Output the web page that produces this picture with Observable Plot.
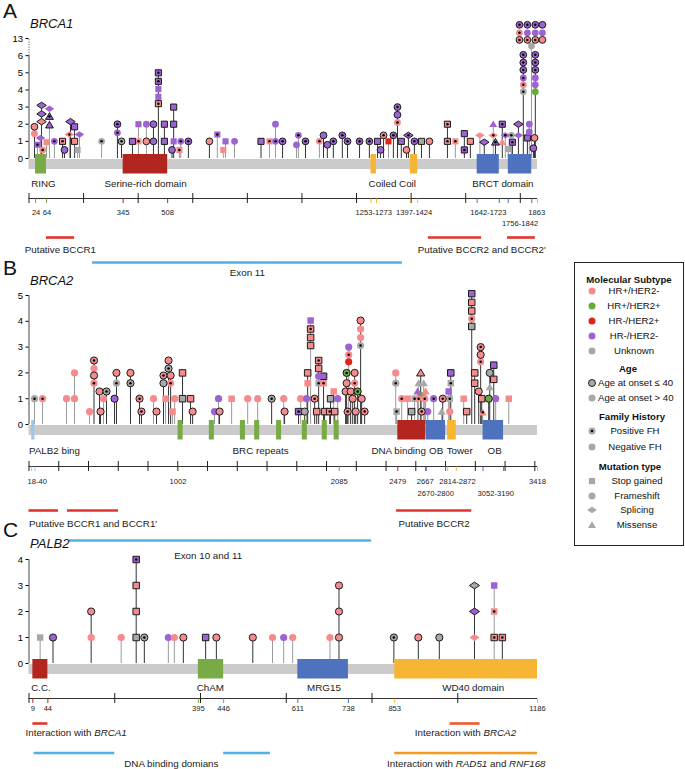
<!DOCTYPE html>
<html><head><meta charset="utf-8">
<script src="https://cdn.jsdelivr.net/npm/d3@7"></script>
<script src="https://cdn.jsdelivr.net/npm/@observablehq/plot@0.6"></script>
<style>
body{margin:0;background:#fff;font-family:"Liberation Sans",Arial,sans-serif}
#wrap{position:relative;width:685px;height:769px;overflow:hidden;background:#fff}
#wrap svg{position:absolute;left:0}
</style></head><body><div id="wrap"></div>
<script>
// ---------- categories ----------
const SUBTYPES = ["a","b","c","d","u"];
const SUBTYPE_LABELS = ["HR+/HER2-","HR+/HER2+","HR-/HER2+","HR-/HER2-","Unknown"];
const MUTATION_TYPES = ["S","F","P","M"];
const MUTATION_LABELS = ["Stop gained","Frameshift","Splicing","Missense"];
const Y_TICKS_A = [0,1,2,3,4,5,6,7];
const Y_TICK_LABELS_A = ["0","1","2","3","4","5","6","13"];
const Y_TICKS_B = [0,1,2,3,4,5];
const Y_TICKS_C = [0,1,2,3,4];

// rows: [position (aa), stack level, subtype, age<=40, positive FH, mutation type]
const brca1Mutations = [
 [20,1.85,"a",1,0,"F"],[20,1.45,"a",0,0,"F"],
 [31,0.8,"d",0,1,"S"],
 [42,1.2,"d",0,0,"P"],
 [46,3.1,"d",1,0,"P"],[46,2.6,"d",1,0,"P"],[46,2.15,"a",1,0,"P"],
 [50,0.5,"a",0,1,"F"],
 [64,0.95,"a",0,0,"S"],
 [75,2.9,"d",0,0,"P"],[75,2.45,"d",1,1,"M"],[75,1.95,"d",1,0,"M"],
 [93,1,"d",0,1,"F"],
 [123,1,"a",1,1,"S"],
 [130,0.5,"d",1,0,"F"],
 [148,1.4,"a",0,1,"P"],
 [152,2.15,"d",1,0,"P"],
 [167,1.85,"d",1,0,"S"],[167,1,"a",1,0,"S"],
 [178,0.5,"u",0,0,"S"],
 [185,1.4,"d",0,0,"P"],
 [266,1,"u",0,1,"F"],
 [324,2,"d",1,1,"F"],[324,1.5,"d",0,1,"F"],
 [339,1,"u",1,1,"F"],
 [379,1,"d",1,0,"S"],
 [401,2,"d",0,0,"S"],[401,1,"a",0,1,"S"],
 [430,2,"d",0,0,"F"],[430,1,"a",1,0,"F"],
 [456,2,"d",1,0,"F"],[456,1,"d",1,0,"F"],
 [474,5,"d",1,1,"S"],[474,4.5,"d",1,1,"S"],[474,4.05,"d",0,0,"S"],[474,3.6,"d",0,0,"S"],[474,3.2,"a",1,1,"S"],
 [496,2,"d",1,0,"S"],[496,1,"d",1,0,"S"],
 [524,0.5,"d",1,0,"F"],
 [530,3,"d",1,0,"S"],[530,2,"d",1,0,"S"],[530,1,"d",0,0,"S"],
 [551,0.5,"a",0,1,"S"],
 [556,1,"d",0,1,"F"],
 [584,1,"d",1,1,"F"],
 [661,1,"a",1,0,"F"],
 [690,1.4,"d",0,1,"S"],
 [712,0.5,"a",0,0,"S"],
 [720,1,"d",0,0,"S"],
 [753,1,"d",0,0,"F"],
 [850,1,"d",1,0,"S"],
 [881,1,"a",0,1,"S"],
 [903,2,"d",0,0,"F"],[903,1,"d",0,1,"F"],
 [929,1,"d",1,1,"F"],
 [980,0.8,"d",0,0,"F"],
 [987,1.35,"d",0,1,"F"],
 [1013,1,"d",1,1,"F"],
 [1064,1,"a",0,1,"F"],
 [1079,1.35,"d",1,0,"F"],
 [1093,0.8,"d",1,0,"F"],
 [1115,1,"d",1,1,"F"],
 [1148,1.35,"d",1,1,"F"],
 [1167,1,"d",1,1,"F"],
 [1211,1,"d",1,1,"F"],
 [1247,1,"d",1,1,"F"],
 [1277,1,"d",1,0,"S"],
 [1288,0.5,"d",1,0,"F"],
 [1299,1.35,"a",1,1,"F"],
 [1317,1,"c",0,0,"S"],
 [1335,1.35,"d",1,1,"F"],
 [1350,3,"d",1,1,"F"],[1350,2.55,"d",1,0,"F"],[1350,2.1,"a",0,1,"F"],
 [1364,1,"d",1,0,"S"],
 [1383,0.5,"a",1,0,"F"],
 [1390,1.35,"d",1,1,"P"],
 [1412,1,"d",1,1,"F"],
 [1438,1,"u",1,0,"S"],
 [1467,1,"a",1,0,"F"],
 [1533,2,"a",1,1,"S"],[1533,1,"a",1,1,"S"],
 [1562,1,"a",0,1,"S"],
 [1595,1.45,"d",1,0,"S"],[1595,0.5,"d",1,1,"S"],
 [1617,1,"a",1,0,"S"],
 [1652,1.35,"a",0,0,"P"],
 [1668,0.95,"d",1,0,"P"],
 [1701,2,"d",0,0,"M"],[1701,1.35,"a",0,1,"P"],
 [1709,0.95,"d",1,1,"M"],
 [1734,2,"d",1,1,"S"],[1734,0.95,"a",0,0,"M"],
 [1745,1.35,"d",0,1,"P"],
 [1756,0.55,"u",0,0,"S"],
 [1767,1.35,"u",0,1,"F"],
 [1771,0.95,"d",1,1,"S"],
 [1793,2,"d",1,0,"P"],[1793,1.35,"d",0,0,"P"],
 [1811,6.05,"d",1,1,"F"],[1811,5.6,"d",1,1,"F"],[1811,5.17,"d",1,1,"F"],[1811,4.7,"d",0,1,"F"],[1811,4.3,"a",0,1,"F"],[1811,3.9,"u",0,1,"F"],
 [1826,1.2,"d",1,0,"S"],
 [1833,2,"d",0,0,"F"],[1833,1.55,"d",0,0,"F"],
 [1841,6.57,"u",0,0,"F"],
 [1848,0.6,"d",1,0,"F"],
 [1852,1.2,"a",1,0,"F"],
 [1855,6.05,"d",1,1,"F"],[1855,5.6,"d",1,1,"F"],[1855,5.17,"d",1,1,"F"],[1855,4.7,"d",0,0,"F"],[1855,4.3,"d",0,0,"F"],[1855,3.9,"b",0,0,"F"]
];
// the 13-count group drawn as a block above the break
const brca1Cluster = [
 [1797,7.8,"d",1,1,"F"],[1826,7.8,"d",1,1,"F"],[1855,7.8,"d",1,1,"F"],[1881,7.8,"d",1,0,"F"],
 [1797,7.33,"a",0,1,"F"],[1826,7.33,"d",0,0,"F"],[1855,7.33,"d",0,0,"F"],[1881,7.33,"d",0,0,"F"],
 [1797,6.92,"a",1,1,"F"],[1826,6.92,"a",1,1,"F"],[1855,6.92,"a",1,1,"F"],[1881,6.92,"a",1,0,"F"]
];
const brca1Domains = [["RING",24,64],["Serine-rich domain",345,508],["Coiled Coil",1253,1273],["Coiled Coil",1397,1424],["BRCT domain",1642,1723],["BRCT domain",1756,1842]];
const brca1DomainLabels = [["RING",53],["Serine-rich domain",427],["Coiled Coil",1331],["BRCT domain",1736]];
const brca1Boundaries = [[24,"RING"],[64,"RING"],[345,"Serine-rich domain"],[508,"Serine-rich domain"],[1253,"Coiled Coil"],[1273,"Coiled Coil"],[1397,"Coiled Coil"],[1424,"Coiled Coil"],[1642,"BRCT domain"],[1723,"BRCT domain"],[1756,"BRCT domain"],[1842,"BRCT domain"],[1863,"end"]];
const brca1TickLabels = [["24",26,1],["64",66,1],["345",345,1],["508",508,1],["1253-1273",1263,1],["1397-1424",1411,1],["1642-1723",1683,1],["1756-1842",1799,2],["1863",1860,1]];
const brca1Regions = [[64,167,"bccr",1],[1463,1658,"bccr",1],[1753,1855,"bccr",1],[233,1368,"exon",2]];
const brca1RegionLabels = [["Putative BCCR1",115,1,"middle"],["Putative BCCR2 and BCCR2'",1659,1,"middle"],["Exon 11",800,2,"middle"]];

const brca2Mutations = [
 [37,1,"u",0,1,"F"],[91,1,"a",0,1,"F"],[252,1,"a",0,0,"F"],
 [306,2,"a",0,0,"F"],[306,1,"a",0,0,"F"],
 [407,0.5,"a",0,0,"F"],
 [437,2.48,"a",1,1,"F"],[437,2.17,"a",0,0,"F"],[437,1.9,"a",1,0,"F"],[437,1.6,"a",0,1,"F"],
 [474,1.28,"a",1,0,"F"],[481,0.5,"a",1,0,"F"],[501,1,"a",0,0,"F"],[521,1.28,"u",1,1,"F"],
 [575,1,"d",1,0,"F"],
 [588,2,"a",1,0,"F"],[588,1.6,"u",0,1,"F"],
 [682,2,"a",1,0,"F"],[682,1.6,"u",1,1,"F"],
 [743,1,"a",1,1,"F"],[756,0.5,"a",1,1,"F"],
 [837,1,"a",0,0,"F"],[857,0.5,"a",1,0,"F"],
 [904,1.9,"a",1,1,"F"],[904,1.6,"u",1,0,"F"],
 [918,1,"a",0,0,"S"],
 [938,2.48,"a",1,0,"F"],[938,2.17,"u",1,1,"F"],
 [952,1.9,"a",1,0,"F"],[952,1.6,"a",0,1,"F"],
 [965,0.5,"a",0,0,"S"],[979,1,"a",0,0,"F"],
 [1032,2,"a",1,0,"S"],[1032,1,"u",1,0,"S"],
 [1086,1,"a",1,0,"S"],[1100,0.5,"a",1,0,"F"],
 [1247,0.5,"d",0,0,"F"],[1274,1,"d",0,0,"F"],[1281,0.5,"a",1,0,"F"],
 [1362,1,"a",0,0,"S"],[1470,1,"a",0,0,"F"],[1537,1,"a",0,0,"F"],[1631,1,"u",1,1,"F"],
 [1712,1,"a",0,0,"F"],[1718,0.5,"a",1,0,"F"],
 [1812,0.5,"d",1,1,"S"],[1826,1,"a",0,0,"F"],[1853,0.5,"u",1,0,"F"],[1866,1,"d",0,0,"F"],
 [1873,2,"a",1,0,"S"],[1873,1.6,"a",0,0,"S"],
 [1893,4.03,"d",0,0,"S"],[1893,3.7,"a",1,1,"S"],[1893,3.37,"a",1,0,"S"],[1893,3.06,"a",1,0,"S"],
 [1920,1,"a",1,1,"F"],[1934,0.5,"a",1,0,"S"],
 [1947,2.48,"a",1,1,"S"],[1947,2.17,"a",1,0,"S"],[1947,1.87,"d",0,0,"F"],[1947,1.6,"u",0,1,"S"],
 [1980,1.87,"d",1,0,"S"],[1980,1.6,"a",0,1,"S"],
 [1987,0.5,"a",1,0,"S"],[2021,0.5,"a",1,1,"S"],[2027,1,"u",1,0,"S"],[2048,1.28,"a",0,0,"S"],[2055,0.5,"a",1,0,"S"],
 [2075,1,"d",0,0,"F"],
 [2128,1.28,"a",1,0,"F"],
 [2135,2,"b",1,1,"F"],[2135,1.6,"a",1,0,"F"],
 [2142,0.5,"a",1,1,"F"],
 [2149,3,"d",0,0,"F"],[2149,2.7,"a",0,1,"F"],[2149,2.43,"c",0,0,"F"],
 [2162,1.28,"a",1,0,"F"],[2176,1,"a",1,0,"F"],
 [2189,2,"a",1,0,"F"],[2189,1.6,"a",0,1,"F"],
 [2196,0.5,"a",1,0,"F"],[2209,1.28,"b",1,1,"F"],
 [2229,4.03,"a",1,0,"F"],[2229,3.7,"a",0,0,"F"],[2229,3.37,"a",0,0,"F"],[2229,3.06,"u",0,1,"F"],
 [2236,1,"a",1,0,"F"],[2256,0.5,"a",1,1,"F"],
 [2465,2,"a",0,0,"F"],[2465,1.6,"u",0,1,"F"],
 [2471,0.5,"u",0,1,"S"],[2505,1,"a",0,1,"F"],[2545,1,"a",0,0,"S"],[2572,0.5,"u",1,0,"S"],[2592,1,"u",0,1,"S"],
 [2612,1.28,"d",0,0,"M"],
 [2619,1.6,"u",0,0,"M"],[2619,1,"a",0,1,"P"],
 [2633,2,"a",1,0,"M"],
 [2639,1.12,"b",0,0,"F"],[2639,0.5,"a",1,1,"F"],
 [2653,1.6,"u",0,0,"M"],[2660,1,"a",0,1,"F"],[2666,1.28,"a",0,0,"M"],
 [2680,0.5,"d",0,0,"F"],[2720,1,"d",0,1,"F"],[2774,0.5,"u",0,0,"M"],[2781,1,"a",1,1,"F"],
 [2821,1.28,"d",0,0,"S"],
 [2828,1,"u",0,1,"S"],[2828,0.5,"a",0,0,"F"],
 [2835,2,"d",1,0,"S"],[2835,1.6,"u",0,1,"S"],
 [2922,1,"a",0,0,"S"],[2942,0.5,"a",1,0,"S"],
 [2976,5.07,"d",1,0,"S"],[2976,4.73,"a",1,0,"S"],[2976,4.4,"a",1,0,"S"],[2976,4.1,"a",0,1,"F"],[2976,3.8,"u",1,0,"S"],
 [2996,2,"a",1,0,"S"],[2996,1.6,"a",1,0,"S"],
 [3023,1.28,"a",1,0,"F"],
 [3036,3,"a",1,1,"F"],[3036,2.7,"a",1,0,"F"],[3036,2.43,"a",0,1,"F"],
 [3043,1,"a",1,0,"S"],[3050,0.47,"a",0,1,"M"],[3090,1,"b",1,0,"F"],
 [3097,2,"u",1,0,"F"],[3097,1.45,"u",0,0,"M"],
 [3124,2.3,"d",1,0,"S"],[3124,1.75,"a",1,0,"S"],
 [3137,1,"d",0,0,"F"],[3225,1,"a",0,0,"S"]
];
const brca2Domains = [["PALB2 binding",18,40],["BRC repeat",1002,1036],["BRC repeat",1212,1246],["BRC repeat",1421,1455],["BRC repeat",1517,1551],["BRC repeat",1664,1698],["BRC repeat",1837,1871],["BRC repeat",1971,2005],["BRC repeat",2051,2085],["DNA binding",2479,2667],["OB",2670,2800],["Tower",2814,2872],["OB",3052,3190]];
const brca2DomainLabels = [["BRC repeats",1557],["DNA binding",2485],["OB",2737],["Tower",2895],["OB",3130]];
const brca2StartLabels = [["PALB2 bing",0]];
const brca2Boundaries = [[18,"PALB2 binding"],[40,"PALB2 binding"],[1002,"BRC repeat"],[2085,"BRC repeat"],[2479,"DNA binding"],[2667,"link"],[2670,"OB"],[2800,"OB"],[2814,"Tower"],[2872,"Tower"],[3052,"OB"],[3190,"OB"],[3418,"end"]];
const brca2TickLabels = [["18-40",55,1],["1002",1002,1],["2085",2085,1],["2479",2479,1],["2667",2664,1],["2814-2872",2880,1],["2670-2800",2734,2],["3052-3190",3137,2],["3418",3418,1]];
const brca2Regions = [[0,198,"bccr",1],[259,602,"bccr",1],[2471,2976,"bccr",1],[272,2303,"exon",2]];
const brca2RegionLabels = [["Putative BCCR1 and BCCR1'",0,1,"start"],["Putative BCCR2",2723,1,"middle"],["Exon 10 and 11",1204,2,"middle"]];

const palb2Mutations = [
 [26,1,"u",0,0,"S"],[56,1,"d",1,0,"F"],
 [145,2,"a",1,0,"F"],[145,1,"a",0,0,"F"],
 [215,1,"a",0,0,"F"],
 [250,4,"d",1,1,"S"],[250,3,"a",1,0,"S"],[250,2,"a",1,0,"S"],[250,1,"u",1,0,"S"],
 [269,1,"u",1,1,"F"],[325,1,"d",0,0,"F"],[339,1,"a",0,0,"F"],[360,1,"a",1,0,"F"],
 [412,1,"d",1,0,"S"],[437,1,"a",1,0,"F"],[522,1,"a",1,0,"F"],[568,1,"a",0,0,"F"],
 [594,1,"d",0,0,"F"],[615,1,"a",0,0,"F"],[702,1,"a",0,0,"F"],
 [723,3,"a",1,0,"F"],[723,2,"a",1,0,"F"],[723,1,"a",1,0,"F"],
 [851,1,"u",1,1,"F"],[908,1,"a",1,0,"F"],[957,1,"u",1,0,"F"],
 [1039,3,"u",1,0,"P"],[1039,2,"d",1,0,"P"],[1039,1,"a",0,0,"P"],
 [1085,3,"d",0,0,"S"],[1085,2,"a",0,1,"S"],[1085,1,"a",1,1,"S"],
 [1104,1,"a",1,1,"S"]
];
const palb2Domains = [["C.C.",9,44],["ChAM",395,454],["MRG15",627,745],["WD40 domain",853,1186]];
const palb2DomainLabels = [["C.C.",28],["ChAM",423],["MRG15",688],["WD40 domain",1036]];
const palb2Boundaries = [[9,"C.C."],[44,"C.C."],[395,"ChAM"],[454,"ChAM"],[627,"MRG15"],[745,"MRG15"],[853,"WD40 domain"],[1186,"WD40 domain"]];
const palb2TickLabels = [["9",9,1],["44",44,1],["395",395,1],["446",454,1],["611",627,1],["738",745,1],["853",853,1],["1186",1186,1]];
const palb2Regions = [[9,44,"brca1",1],[982,1052,"brca2",1],[12,200,"dna",2],[454,563,"dna",2],[853,1186,"rad51",2]];
const palb2RegionLabels = [["Interaction with BRCA1",110,1,"middle"],["Interaction with BRCA2",1018,1,"middle"],["DNA binding domians",332,2,"middle"],["Interaction with RAD51 and RNF168",1020,2,"middle"]];

// ---------- styles ----------
const SUBTYPE_COLORS = ["#f68a8d","#6aaa3a","#e2231a","#9d62d3","#a8a8a8"];
const DOMAIN_COLOR = {"RING":"#78aa45","Serine-rich domain":"#b2261f","Coiled Coil":"#f6b532","BRCT domain":"#4e72bd",
  "PALB2 binding":"#9fc6e9","BRC repeat":"#78aa45","DNA binding":"#b2261f","OB":"#4e72bd","Tower":"#f6b532","link":"#7b2c5e",
  "C.C.":"#b2261f","ChAM":"#78aa45","MRG15":"#4e72bd","WD40 domain":"#f6b532","end":"#f6b532"};
const REGION_COLOR = {bccr:"#e3342c", exon:"#4fb1e3", brca1:"#e3342c", brca2:"#ee5a2a", dna:"#4fb1e3", rad51:"#f39a1f"};
const FONT = "Liberation Sans, Arial, sans-serif";

const LAYOUT = {
  A: {top:0, height:290, zeroY:158, unit:17.14, r:3.4, rows:{dom:25, axis:40, lab1:54, lab2:65, line1:79, text1:91, line2:104, text2:114}},
  B: {top:255, height:310, zeroY:169, unit:25.8, r:3.6, rows:{dom:26, axis:42, lab1:57, lab2:69, line1:86, text1:99, line2:116, text2:131}},
  C: {top:520, height:249, zeroY:143, unit:26, r:3.6, rows:{dom:24, axis:35, lab1:45, lab2:56, line1:60, text1:69.5, line2:89.5, text2:100}}
};

// ---------- symbols ----------
const SYM = {
  S: {draw(c,a){const r=Math.sqrt(a/Math.PI), s=r*0.9; c.moveTo(-s,-s); c.lineTo(s,-s); c.lineTo(s,s); c.lineTo(-s,s); c.closePath();}},
  F: {draw(c,a){const r=Math.sqrt(a/Math.PI); c.moveTo(r,0); c.arc(0,0,r,0,2*Math.PI); c.closePath();}},
  P: {draw(c,a){const r=Math.sqrt(a/Math.PI), w=r*1.4, h=r*0.95; c.moveTo(-w,0); c.lineTo(0,-h); c.lineTo(w,0); c.lineTo(0,h); c.closePath();}},
  M: {draw(c,a){const r=Math.sqrt(a/Math.PI), w=r*1.15, h=r; c.moveTo(0,-h*1.1); c.lineTo(w,h*0.85); c.lineTo(-w,h*0.85); c.closePath();}}
};

const toObj = r => ({aa:r[0], lv:r[1], sub:r[2], age:r[3], fh:r[4], type:r[5]});
function stemsOf(rows){
  const m = d3.rollup(rows, v => { const t = v.reduce((a,b)=> b.lv>a.lv?b:a); return {aa:t.aa, top:t.lv, dark:t.age===1}; }, d=>d.aa);
  return Array.from(m.values());
}

function buildPanel(cfg, L){
  const len = cfg.len, R = L.rows;
  const lv = px => -px / L.unit;
  const muts = cfg.mutations.map(toObj);
  const dots = muts.concat((cfg.cluster||[]).map(toObj));
  const stems = stemsOf(muts);
  const yTop = cfg.yTicks[cfg.yTicks.length-1];
  const marks = [];
  // y axis
  marks.push(Plot.ruleX([0], {x:()=>0, y1:()=>0, y2:()=>cfg.ySolidTop, stroke:"#333", strokeWidth:0.9}));
  if (cfg.ySolidTop < yTop) marks.push(Plot.ruleX([0], {x:()=>0, y1:()=>cfg.ySolidTop, y2:()=>yTop, stroke:"#333", strokeWidth:0.9, strokeDasharray:"1,1.5"}));
  marks.push(Plot.axisY({ticks:cfg.yTicks, tickFormat:cfg.yFormat, tickSize:3, tickPadding:3, fontSize:9.5, label:null, anchor:"left", fontFamily:FONT}));
  // stems
  marks.push(Plot.ruleX(stems.filter(d=>!d.dark), {x:"aa", y1:()=>0, y2:"top", stroke:"#9a9a9a", strokeWidth:1}));
  marks.push(Plot.ruleX(stems.filter(d=>d.dark), {x:"aa", y1:()=>0, y2:"top", stroke:"#333", strokeWidth:1}));
  // protein bar and domains
  marks.push(Plot.ruleY([0], {y:()=>0, x1:()=>0, x2:()=>len, stroke:"#cbcbcb", strokeWidth:10, dy:5.5}));
  for (const d of cfg.domains) marks.push(Plot.ruleY([d], {y:()=>0, x1:d=>d[1], x2:d=>d[2], stroke:DOMAIN_COLOR[d[0]], strokeWidth:19.5, dy:5.25}));
  // domain labels
  marks.push(Plot.text(cfg.domainLabels, {x:d=>d[1], y:()=>lv(R.dom), text:d=>d[0], fontSize:9.8, fontFamily:FONT, fill:"#1a1a1a"}));
  if (cfg.startLabels) marks.push(Plot.text(cfg.startLabels, {x:d=>d[1], y:()=>lv(R.dom), text:d=>d[0], fontSize:9.8, fontFamily:FONT, fill:"#1a1a1a", textAnchor:"start"}));
  // coordinate axis
  marks.push(Plot.ruleY([0], {y:()=>lv(R.axis), x1:()=>0, x2:()=>len, stroke:"#333", strokeWidth:1}));
  marks.push(Plot.ruleX(d3.range(0, len+1, 200), {x:d=>d, y1:()=>lv(R.axis-5), y2:()=>lv(R.axis+5), stroke:"#222", strokeWidth:1}));
  for (const b of cfg.boundaries) marks.push(Plot.ruleX([b], {x:d=>d[0], y1:()=>lv(R.axis+0.5), y2:()=>lv(R.axis+5), stroke:DOMAIN_COLOR[b[1]], strokeWidth:1}));
  marks.push(Plot.text(cfg.tickLabels, {x:d=>d[1], y:d=>lv(d[2]===1?R.lab1:R.lab2), text:d=>d[0], fontSize:7.6, fontFamily:FONT, fill:"#222"}));
  // region lines and labels
  for (const g of cfg.regions) marks.push(Plot.ruleY([g], {y:d=>lv(d[3]===1?R.line1:R.line2), x1:d=>d[0], x2:d=>d[1], stroke:REGION_COLOR[g[2]], strokeWidth:2.6}));
  for (const anchor of ["start","middle"]) {
    const labs = cfg.regionLabels.filter(d=>d[3]===anchor);
    if (labs.length) marks.push(Plot.text(labs, {x:d=>d[1], y:d=>lv(d[2]===1?R.text1:R.text2), text:d=>d[0], fontSize:9.8, fontFamily:FONT, fill:"#1a1a1a", textAnchor:anchor}));
  }
  // mutation markers
  for (const t of MUTATION_TYPES) for (const o of [0,1]) {
    const data = dots.filter(d=>d.type===t && d.age===o);
    if (!data.length) continue;
    marks.push(Plot.dot(data, {x:"aa", y:"lv", fill:"sub", symbol:SYM[t], r:L.r, stroke:o?"#1b1b1b":"none", strokeWidth:o?1:0}));
  }
  marks.push(Plot.dot(dots.filter(d=>d.fh), {x:"aa", y:"lv", r:1.25, fill:"#000"}));

  const svg = Plot.plot({
    width:685, height:L.height, marginLeft:28.5, marginRight:148, marginTop:0, marginBottom:0,
    x:{domain:[0,len], range:[28.5,537], axis:null},
    y:{domain:[0,1], range:[L.zeroY, L.zeroY-L.unit]},
    color:{type:"ordinal", domain:SUBTYPES, range:SUBTYPE_COLORS},
    style:{background:"transparent", overflow:"visible", fontFamily:FONT},
    marks
  });
  svg.style.top = L.top + "px";
  // italic gene names inside annotation text
  d3.select(svg).selectAll("text").each(function(){
    if (this.querySelector("tspan")) return;
    const s = this.textContent;
    if (!/^Interaction with /.test(s)) return;
    this.textContent = "";
    for (const part of s.split(/(BRCA1|BRCA2|RAD51|RNF168)/)) {
      if (!part) continue;
      const ts = document.createElementNS("http://www.w3.org/2000/svg","tspan");
      ts.textContent = part;
      if (/^(BRCA1|BRCA2|RAD51|RNF168)$/.test(part)) ts.setAttribute("font-style","italic");
      this.appendChild(ts);
    }
  });
  return svg;
}

const wrap = document.getElementById("wrap");
wrap.appendChild(buildPanel({len:1863, mutations:brca1Mutations, cluster:brca1Cluster, domains:brca1Domains, domainLabels:brca1DomainLabels,
  boundaries:brca1Boundaries, tickLabels:brca1TickLabels, regions:brca1Regions, regionLabels:brca1RegionLabels,
  yTicks:Y_TICKS_A, yFormat:(d,i)=>Y_TICK_LABELS_A[Y_TICKS_A.indexOf(d)], ySolidTop:6}, LAYOUT.A));
wrap.appendChild(buildPanel({len:3418, mutations:brca2Mutations, domains:brca2Domains, domainLabels:brca2DomainLabels, startLabels:brca2StartLabels,
  boundaries:brca2Boundaries, tickLabels:brca2TickLabels, regions:brca2Regions, regionLabels:brca2RegionLabels,
  yTicks:Y_TICKS_B, yFormat:d=>String(d), ySolidTop:5}, LAYOUT.B));
wrap.appendChild(buildPanel({len:1186, mutations:palb2Mutations, domains:palb2Domains, domainLabels:palb2DomainLabels,
  boundaries:palb2Boundaries, tickLabels:palb2TickLabels, regions:palb2Regions, regionLabels:palb2RegionLabels,
  yTicks:Y_TICKS_C, yFormat:d=>String(d), ySolidTop:4}, LAYOUT.C));

// ---------- panel letters, gene titles, legend ----------
const ov = d3.select(wrap).append("svg").attr("width",685).attr("height",769)
  .style("top","0px").style("pointer-events","none").attr("font-family",FONT);
const titles = [["A","BRCA1",18,28],["B","BRCA2",275,285],["C","PALB2",537,548]];
for (const [l,g,yl,yg] of titles) {
  ov.append("text").attr("x",3).attr("y",yl).attr("font-size",21).attr("fill","#111").text(l);
  ov.append("text").attr("x",30).attr("y",yg).attr("font-size",13).attr("font-style","italic").attr("fill","#111").text(g);
}
const lg = ov.append("g");
lg.append("rect").attr("x",574.5).attr("y",262.5).attr("width",109).attr("height",283).attr("fill","#fff").attr("stroke","#222").attr("stroke-width",1);
const head = (t,x,y) => lg.append("text").attr("x",x).attr("y",y).attr("dy","0.35em").attr("text-anchor","middle").attr("font-size",9.6).attr("font-weight","bold").attr("fill","#111").text(t);
const item = (t,x,y,anchor) => lg.append("text").attr("x",x).attr("y",y).attr("dy","0.35em").attr("text-anchor",anchor||"middle").attr("font-size",9.6).attr("fill","#111").text(t);
const sym = (type,y,fill,stroke) => lg.append("path").attr("transform",`translate(592,${y})`).attr("d",d3.symbol(SYM[type], 3.5*3.5*Math.PI)()).attr("fill",fill).attr("stroke",stroke||"none").attr("stroke-width",1);
head("Molecular Subtype",629,280);
const subY = [291,306,321,336,351];
SUBTYPE_LABELS.forEach((t,i)=>{ sym("F",subY[i],SUBTYPE_COLORS[i]); item(t,634,subY[i]); });
head("Age",628,369);
sym("F",383,"#a8a8a8","#222"); item("Age at onset \u2264 40",598,383,"start");
sym("F",398,"#a8a8a8"); item("Age at onset > 40",598,398,"start");
head("Family History",632,417);
sym("F",431,"#a8a8a8"); lg.append("circle").attr("cx",592).attr("cy",431).attr("r",1.25).attr("fill","#000"); item("Positive FH",635,431);
sym("F",447,"#a8a8a8"); item("Negative FH",635,447);
head("Mutation type",630,467);
const mtY = [481,496,510,525];
MUTATION_TYPES.forEach((t,i)=>{ sym(t,mtY[i],"#a8a8a8"); item(MUTATION_LABELS[i],637,mtY[i]); });
</script></body></html>
